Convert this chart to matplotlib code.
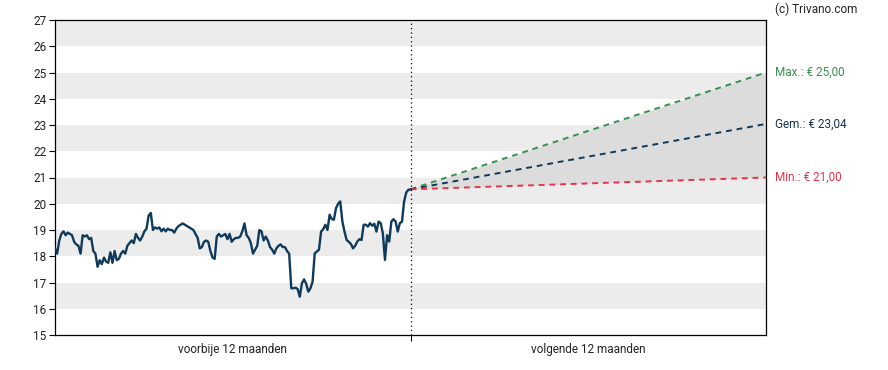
import numpy as np
import matplotlib
matplotlib.use("Agg")
import matplotlib.pyplot as plt

plt.rcParams['font.family'] = ['Roboto', 'DejaVu Sans']

# historical prices (past 12 months), approx. evenly spaced
past_prices = [
    18.3, 18.1, 18.6, 18.85, 18.95, 18.8, 18.9, 18.85, 18.8, 18.55, 18.45, 18.4, 18.1,
    18.8, 18.75, 18.8, 18.65, 18.7, 18.2, 18.1, 17.6, 17.85, 17.7, 17.95, 17.8, 17.75, 18.15,
    17.75, 18.2, 17.85, 17.9, 18.1, 18.2, 18.1, 18.4, 18.5, 18.6, 18.5, 18.85, 18.7,
    18.6, 18.75, 18.95, 19.05, 19.55, 19.65, 19.0, 19.1, 19.05, 19.1, 18.95, 19.05,
    18.95, 19.05, 19.0, 19.0, 18.9, 19.05, 19.15, 19.2, 19.25, 19.2, 19.15, 19.1, 19.05, 19.0,
    18.85, 18.7, 18.3, 18.35, 18.55, 18.6, 18.55, 18.2, 17.95, 17.9, 18.75, 18.85, 18.75,
    18.8, 18.85, 18.65, 18.85, 18.55, 18.65, 18.7, 18.7, 18.75, 18.95, 19.25, 18.8, 18.7,
    18.5, 18.1, 18.25, 18.4, 19.0, 18.95, 18.6, 18.75, 18.6, 18.35, 18.25, 18.1, 18.3,
    18.4, 18.45, 18.35, 18.35, 18.2,
    18.1, 16.78, 16.78, 16.8, 16.75, 16.46, 16.97, 17.12, 16.95, 16.65, 16.78, 17.03,
    18.11, 18.18, 18.25, 18.94, 19.03, 19.2, 19.0, 19.58, 19.42, 19.39, 19.83,
    20.0, 20.09, 19.32, 18.94, 18.62, 18.55, 18.47, 18.3, 18.4, 18.56, 18.65,
    18.62, 19.2, 19.2, 19.13, 19.26, 19.16, 19.24, 18.94, 19.32, 19.26, 18.88, 17.86,
    18.8, 18.56, 19.32, 19.41, 19.32, 18.94, 19.26, 19.32, 20.09, 20.43, 20.53, 20.55,
]

last_price = 20.55
forecast_max = 25.00
forecast_avg = 23.04
forecast_min = 21.00

x_labels = ["voorbije 12 maanden", "volgende 12 maanden"]
label_max = "Max.: € 25,00"
label_avg = "Gem.: € 23,04"
label_min = "Min.: € 21,00"
credit = "(c) Trivano.com"

navy = "#0f3a5a"
green = "#3a8f52"
red = "#e8334a"

fig = plt.figure(figsize=(8.88, 3.70), dpi=100)
ax = fig.add_axes([55/888, 35/370, (766-55)/888, (335-20)/370])
ax.set_xlim(0, 2)
ax.set_ylim(15, 27)

# alternating bands
for lo in range(16, 27, 2):
    ax.axhspan(lo, lo + 1, color="#ececec", lw=0, zorder=0)

# history
xp = np.linspace(0, 1, len(past_prices))
ax.plot(xp, past_prices, color=navy, lw=1.7, zorder=3, solid_joinstyle='round')

# forecast cone
xf = [1, 2]
ax.fill_between(xf, [last_price, forecast_min], [last_price, forecast_max],
                color="#dcdcdc", lw=0, zorder=1)
ax.plot(xf, [last_price, forecast_max], color=green, lw=1.4, ls=(0, (3, 2.5)), zorder=2)
ax.plot(xf, [last_price, forecast_avg], color=navy, lw=1.4, ls=(0, (3, 2.5)), zorder=2)
ax.plot(xf, [last_price, forecast_min], color=red, lw=1.4, ls=(0, (3, 2.5)), zorder=2)

# divider
ax.axvline(1, color="black", lw=0.9, ls=(0, (1, 2.5)), zorder=4)

# axes styling
ax.set_yticks(range(15, 28))
ax.set_yticklabels([str(v) for v in range(15, 28)])
ax.tick_params(axis='y', direction='out', length=4, width=0.8, labelsize=8.5, pad=2,
               labelcolor="#222222")
ax.set_xticks([1])
ax.set_xticklabels([""])
ax.tick_params(axis='x', direction='out', length=4, width=0.8)
ax.set_xticks([0.5, 1.5], minor=True)
ax.set_xticklabels(x_labels, minor=True)
ax.tick_params(axis='x', which='minor', length=0, labelsize=8.5, pad=6, labelcolor="#222222")
for s in ax.spines.values():
    s.set_color("black")
    s.set_linewidth(0.9)

# right labels
trans = ax.get_yaxis_transform()
ax.text(1.012, forecast_max, label_max, transform=trans, color=green, fontsize=8.5, va='center', ha='left')
ax.text(1.012, forecast_avg, label_avg, transform=trans, color="#16324f", fontsize=8.5, va='center', ha='left')
ax.text(1.012, forecast_min, label_min, transform=trans, color=red, fontsize=8.5, va='center', ha='left')
fig.text(775/888, 1 - 9/370, credit, fontsize=8.5, color="#222222", va='center', ha='left')

fig.savefig("out.png", dpi=100)
